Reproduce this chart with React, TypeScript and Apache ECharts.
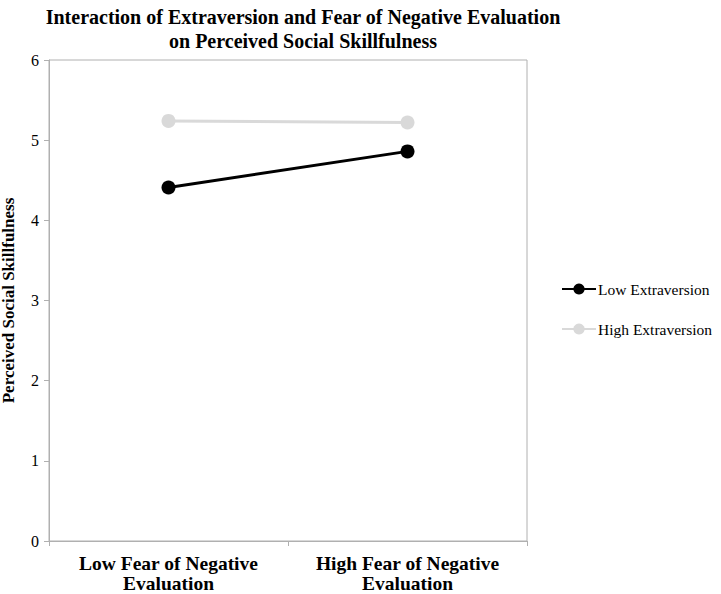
import React, { useEffect, useRef } from "react";
import * as echarts from "echarts";

const categories = ["Low Fear of Negative\nEvaluation", "High Fear of Negative\nEvaluation"];
const lowExtraversion = [4.41, 4.86];
const highExtraversion = [5.24, 5.22];
const seriesNames = ["Low Extraversion", "High Extraversion"];
const titleText = "Interaction of Extraversion and Fear of Negative Evaluation\non Perceived Social Skillfulness";
const yAxisName = "Perceived Social Skillfulness";

const FONT = "'Liberation Serif', 'Times New Roman', serif";
const AXIS_GREY = "#b0b0b0";

export default function App() {
  const ref = useRef<HTMLDivElement>(null);
  useEffect(() => {
    if (!ref.current) return;
    const chart = echarts.init(ref.current, undefined, { renderer: "svg" });
    chart.setOption({
      animation: false,
      backgroundColor: "#ffffff",
      title: {
        text: titleText,
        left: 298,
        textAlign: "center",
        top: 0,
        textStyle: {
          fontFamily: FONT,
          fontWeight: "bold",
          fontSize: 20,
          lineHeight: 24,
          color: "#000",
        },
      },
      legend: {
        orient: "vertical",
        left: 561,
        top: 281,
        itemWidth: 34,
        itemHeight: 14,
        itemGap: 24,
        padding: 0,
        textStyle: { fontFamily: FONT, fontSize: 15.5, color: "#000", padding: [0, 0, 0, -3] },
        data: seriesNames,
      },
      grid: {
        left: 49,
        top: 60,
        right: 194,
        bottom: 53,
        show: true,
        borderColor: AXIS_GREY,
        borderWidth: 1,
        containLabel: false,
        outerBoundsMode: "none",
      },
      xAxis: {
        type: "category",
        data: categories,
        boundaryGap: true,
        axisLine: { lineStyle: { color: AXIS_GREY, width: 1 } },
        axisTick: { show: true, alignWithLabel: false, length: 5, lineStyle: { color: AXIS_GREY } },
        axisLabel: {
          interval: 0,
          hideOverlap: false,
          fontFamily: FONT,
          fontWeight: "bold",
          fontSize: 19.5,
          lineHeight: 20,
          color: "#000",
          margin: 12,
        },
        splitLine: { show: false },
      },
      yAxis: {
        type: "value",
        min: 0,
        max: 6,
        interval: 1,
        name: yAxisName,
        nameLocation: "middle",
        nameGap: 32,
        nameTextStyle: {
          fontFamily: FONT,
          fontWeight: "bold",
          fontSize: 17,
          color: "#000",
        },
        axisLine: { show: true, lineStyle: { color: AXIS_GREY, width: 1 } },
        axisTick: { show: true, length: 5, lineStyle: { color: AXIS_GREY } },
        axisLabel: { fontFamily: FONT, fontSize: 16, color: "#000", margin: 10 },
        splitLine: { show: false },
      },
      series: [
        {
          name: seriesNames[0],
          type: "line",
          data: lowExtraversion,
          symbol: "circle",
          symbolSize: 14,
          lineStyle: { color: "#000000", width: 3 },
          itemStyle: { color: "#000000" },
          z: 3,
        },
        {
          name: seriesNames[1],
          type: "line",
          data: highExtraversion,
          symbol: "circle",
          symbolSize: 14,
          lineStyle: { color: "#d9d9d9", width: 3 },
          itemStyle: { color: "#d9d9d9" },
          z: 2,
        },
      ],
    });
    return () => chart.dispose();
  }, []);
  return <div ref={ref} style={{ width: 721, height: 594, position: "absolute", left: 0, top: 0 }} />;
}
